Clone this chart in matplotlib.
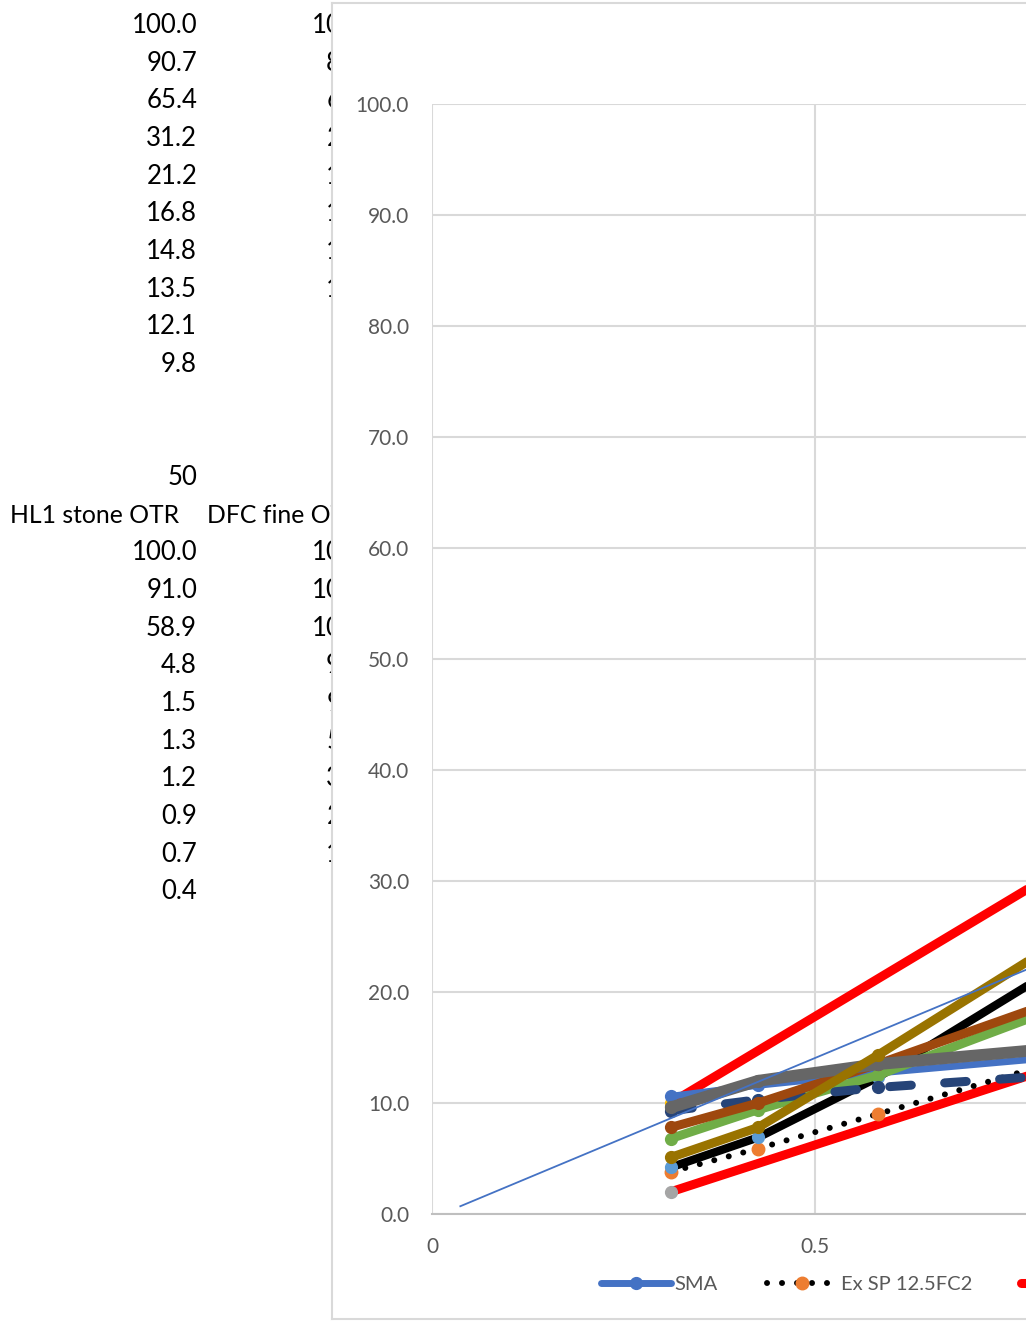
import matplotlib
matplotlib.use("Agg")
import matplotlib.pyplot as plt
import numpy as np

W, H = 1026, 1322
FONT = "Lato"

# ---------------- spreadsheet cells (left of chart) ----------------
colA_block1 = ["100.0", "90.7", "65.4", "31.2", "21.2", "16.8", "14.8", "13.5", "12.1", "9.8"]
colB_block1 = ["100.0", "88.6", "63.2", "27.5", "19.0", "15.9", "13.7", "12.0", "9.5", "7.2"]
colA_label2 = "50"
headers2 = ["HL1 stone OTR", "DFC fine OTR"]
colA_block2 = ["100.0", "91.0", "58.9", "4.8", "1.5", "1.3", "1.2", "0.9", "0.7", "0.4"]
colB_block2 = ["100.0", "100.0", "100.0", "99.6", "92.3", "57.8", "36.1", "24.9", "15.2", "8.7"]

# ---------------- chart data (0.45 power gradation chart) ----------------
sieves = [0.075, 0.15, 0.3, 0.6]
sma = [10.6, 11.6, 12.7, 14.0]
ex_sp = [3.8, 5.9, 9.0, 13.3]
mix_black = [4.2, 6.9, 12.3, 21.3]
mix_green = [6.8, 9.4, 12.5, 18.0]
mix_darkblue = [9.3, 10.3, 11.4, 12.4]
mix_brown = [7.8, 10.0, 13.5, 18.7]
mix_gray = [9.6, 12.0, 13.5, 14.8]
mix_olive = [5.1, 7.8, 14.3, 23.5]
cp_sieves = [0.075, 2.36]
cp_lower = [2.0, 28.0]
cp_upper = [10.0, 58.0]
maxd_x = [0.037, 3.48]
maxd_y = [0.7, 100.0]

yticks = [0, 10, 20, 30, 40, 50, 60, 70, 80, 90, 100]
xticks = [0, 0.5, 1, 1.5, 2, 2.5, 3, 3.5, 4]
xtick_labels = ["0", "0.5", "1", "1.5", "2", "2.5", "3", "3.5", "4"]

POW = 0.45
xs = [s ** POW for s in sieves]
xcp = [s ** POW for s in cp_sieves]

fig = plt.figure(figsize=(W / 100, H / 100), dpi=100)
fig.patch.set_facecolor("white")


def fx(px):
    return px / W


def fy(py):
    return 1 - py / H


# sheet text
SHEET_FS = 18.5
HEAD_FS = 17.8
row0, rowh = 33.0, 37.67
for k, v in enumerate(colA_block1):
    fig.text(fx(197), fy(row0 + rowh * k), v, ha="right", va="baseline",
             fontsize=SHEET_FS, family=FONT, color="black", zorder=1)
for k, v in enumerate(colB_block1):
    fig.text(fx(377), fy(row0 + rowh * k), v, ha="right", va="baseline",
             fontsize=SHEET_FS, family=FONT, color="black", zorder=1)
fig.text(fx(197), fy(row0 + rowh * 12), colA_label2, ha="right", va="baseline",
         fontsize=SHEET_FS, family=FONT, color="black", zorder=1)
fig.text(fx(10), fy(row0 + rowh * 13), headers2[0], ha="left", va="baseline",
         fontsize=HEAD_FS, family=FONT, color="black", zorder=1)
fig.text(fx(207), fy(row0 + rowh * 13), headers2[1], ha="left", va="baseline",
         fontsize=HEAD_FS, family=FONT, color="black", zorder=1)
for k, v in enumerate(colA_block2):
    fig.text(fx(197), fy(row0 + rowh * (14 + k)), v, ha="right", va="baseline",
             fontsize=SHEET_FS, family=FONT, color="black", zorder=1)
for k, v in enumerate(colB_block2):
    fig.text(fx(377), fy(row0 + rowh * (14 + k)), v, ha="right", va="baseline",
             fontsize=SHEET_FS, family=FONT, color="black", zorder=1)

# chart area (white box with light border)
bg = fig.add_axes([fx(332), fy(1319), (1200 - 332) / W, (1319 - 3) / H], zorder=2)
bg.set_facecolor("white")
bg.set_xticks([])
bg.set_yticks([])
for s in bg.spines.values():
    s.set_color("#d9d9d9")
    s.set_linewidth(1.5)
bg.spines["right"].set_visible(False)

# plot area
XMAX = 4.0
ax = fig.add_axes([fx(432), fy(1214), 766 * XMAX / W, 1110 / H], zorder=3)
ax.set_facecolor("none")
ax.set_xlim(0, XMAX)
ax.set_ylim(0, 100)
ax.set_yticks(yticks)
ax.set_yticklabels([f"{v:.1f}" for v in yticks])
ax.set_xticks(xticks)
ax.set_xticklabels(xtick_labels)
ax.tick_params(length=0, pad=16.5, labelsize=15, labelcolor="#595959")
for lab in ax.get_xticklabels() + ax.get_yticklabels():
    lab.set_family(FONT)
ax.grid(True, color="#d9d9d9", linewidth=1.5)
ax.set_axisbelow(True)
for side in ["left", "right", "top"]:
    ax.spines[side].set_visible(False)
ax.spines["bottom"].set_color("#bfbfbf")
ax.spines["bottom"].set_linewidth(1.5)

MS = 8.5
common = dict(solid_capstyle="round", dash_capstyle="round", solid_joinstyle="round")

ax.plot(xcp, cp_lower, color="#ff0000", lw=6.5, marker="o", ms=MS,
        markerfacecolor="#a5a5a5", markeredgecolor="#a5a5a5", label="Control Pts", **common)
ax.plot(xcp, cp_upper, color="#ff0000", lw=6.5, marker="o", ms=MS,
        markerfacecolor="#ffc000", markeredgecolor="#ffc000", label="Control Pts ", **common)
ax.plot(xs, sma, color="#4472c4", lw=5, marker="o", ms=MS,
        markerfacecolor="#4472c4", markeredgecolor="#4472c4", label="SMA", **common)
ax.plot(xs, ex_sp, color="black", lw=4.3, linestyle=(0, (0.01, 2.5)), marker="o", ms=9,
        markerfacecolor="#ed7d31", markeredgecolor="#ed7d31", label="Ex SP 12.5FC2", **common)
ax.plot(xs, mix_black, color="black", lw=6, marker="o", ms=MS,
        markerfacecolor="#5b9bd5", markeredgecolor="#5b9bd5", label="Mix 5", **common)
ax.plot(xs, mix_green, color="#70ad47", lw=6.5, marker="o", ms=MS,
        markerfacecolor="#70ad47", markeredgecolor="#70ad47", label="Mix 6", **common)
ax.plot(xs, mix_darkblue, color="#264478", lw=6.5, linestyle=(0, (2.4, 3.7)), marker="o", ms=MS,
        markerfacecolor="#264478", markeredgecolor="#264478", label="Mix 7", **common)
ax.plot(xs, mix_brown, color="#9e480e", lw=6.5, marker="o", ms=MS,
        markerfacecolor="#9e480e", markeredgecolor="#9e480e", label="Mix 8", **common)
ax.plot(xs, mix_gray, color="#666666", lw=8.5, marker="o", ms=MS,
        markerfacecolor="#666666", markeredgecolor="#666666", label="Mix 9", **common)
ax.plot(xs, mix_olive, color="#997300", lw=6.5, marker="o", ms=MS,
        markerfacecolor="#997300", markeredgecolor="#997300", label="Mix 10", **common)
ax.plot(maxd_x, maxd_y, color="#4472c4", lw=1.3, label="Max density")

handles, labels = ax.get_legend_handles_labels()
order = [2, 3, 0, 1, 4, 5, 6, 7, 8, 9, 10]
leg = fig.legend([handles[i] for i in order], [labels[i] for i in order],
                 loc="center left", bbox_to_anchor=(fx(601), fy(1284)),
                 ncol=11, frameon=False, borderpad=0, borderaxespad=0,
                 handlelength=3.5, handletextpad=0.15, columnspacing=2.45,
                 prop={"family": FONT, "size": 14.5})
for t in leg.get_texts():
    t.set_color("#595959")
leg.set_zorder(5)

fig.savefig("out.png", dpi=100)
